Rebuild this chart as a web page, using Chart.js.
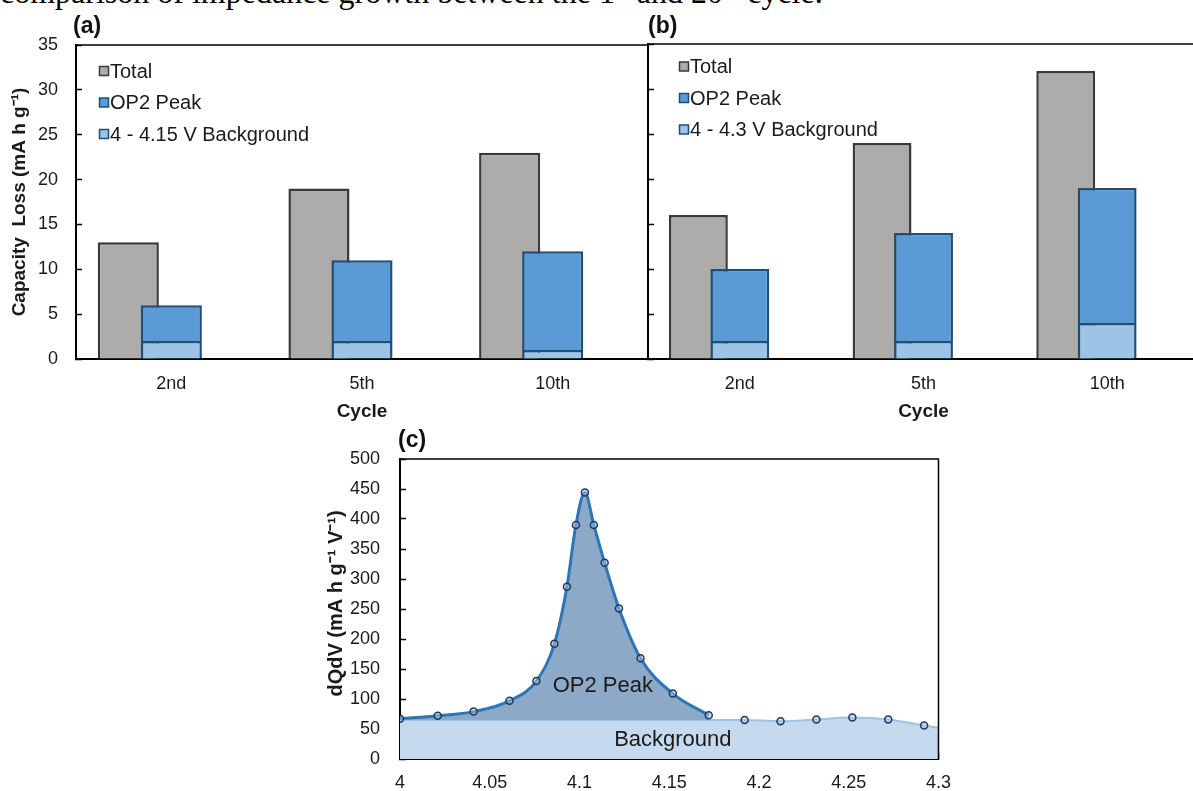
<!DOCTYPE html>
<html>
<head>
<meta charset="utf-8">
<script src="https://cdn.jsdelivr.net/npm/chart.js@4.4.1/dist/chart.umd.min.js"></script>
<style>
  html, body { margin: 0; padding: 0; background: #fff; }
  body { width: 1193px; height: 791px; position: relative; overflow: hidden; }
  canvas { position: absolute; }
  #caption { position: absolute; left: 0; top: -24px; white-space: nowrap; color: #000;
             font: 32px/32px "Liberation Serif", "Times New Roman", serif; }
  #caption sup { font-size: 0.65em; line-height: 0; vertical-align: 0.55em; }
  .panel { position: absolute; color: #111; font: bold 23px/22px "Liberation Sans", Arial, sans-serif; }
</style>
</head>
<body>
<div id="caption">comparison of impedance growth between the 1<sup>st</sup> and 20<sup>th</sup> cycle.</div>
<canvas id="chartA" width="660" height="425" style="left:0;top:0"></canvas>
<canvas id="chartB" width="570" height="425" style="left:640px;top:0"></canvas>
<canvas id="chartC" width="670" height="377" style="left:300px;top:420px"></canvas>
<div class="panel" style="left:73px;top:14px">(a)</div>
<div class="panel" style="left:648px;top:14px">(b)</div>
<div class="panel" style="left:398px;top:428px">(c)</div>
<script>
// bar panels: capacity loss per cycle
const cycles = ['2nd', '5th', '10th'];
const capacityTicks = [0, 5, 10, 15, 20, 25, 30, 35];

// (a) 4 - 4.15 V window
const totalA = [13, 19, 23];
const op2PeakA = [4, 9, 11];
const backgroundA = [2, 2, 1];

// (b) 4 - 4.3 V window
const totalB = [16, 24, 32];
const op2PeakB = [8, 12, 15];
const backgroundB = [2, 2, 4];

// (c) dQ/dV curve
const voltage = [4.000, 4.021, 4.041, 4.061, 4.076, 4.086, 4.093, 4.098, 4.103, 4.108, 4.114,
                 4.122, 4.134, 4.152, 4.172, 4.192, 4.212, 4.232, 4.252, 4.272, 4.292, 4.312];
const dqdv = [67, 72, 79, 97, 130, 192, 287, 390, 444, 390, 327,
              251, 168, 109, 73, 65, 63, 66, 69, 66, 56, 46];
const peakPoints = 15;        // first points belong to the OP2 peak
const backgroundLevel = 65;
const voltageTicks = [4, 4.05, 4.1, 4.15, 4.2, 4.25, 4.3];
const voltageLabels = ['4', '4.05', '4.1', '4.15', '4.2', '4.25', '4.3'];
const dqdvTicks = [0, 50, 100, 150, 200, 250, 300, 350, 400, 450, 500];
const regionNames = ['OP2 Peak', 'Background'];
const regionX = [4.113, 4.152];
const regionY = [121, 31];

Chart.defaults.font.family = '"Liberation Sans", Arial, sans-serif';
Chart.defaults.font.size = 18;
Chart.defaults.color = '#1a1a1a';

// top and right edge of the plot area
const framePlugin = {
    id: 'frame',
    afterDraw(chart) {
        const { ctx, chartArea: a } = chart;
        ctx.save();
        ctx.strokeStyle = '#000';
        ctx.lineWidth = 1.5;
        ctx.beginPath();
        ctx.moveTo(a.left, a.top);
        ctx.lineTo(a.right, a.top);
        ctx.lineTo(a.right, a.bottom);
        ctx.stroke();
        ctx.restore();
    }
};

// legend drawn inside the plot, like excel does
const boxLegend = {
    id: 'boxLegend',
    afterDraw(chart, args, opts) {
        if (!opts.items) return;
        const { ctx, chartArea: a } = chart;
        ctx.save();
        ctx.font = '20px "Liberation Sans", Arial, sans-serif';
        ctx.textBaseline = 'middle';
        opts.items.forEach((di, i) => {
            const ds = chart.data.datasets[di];
            const cx = a.left + opts.x;
            const cy = a.top + opts.y + i * opts.gap;
            ctx.fillStyle = ds.backgroundColor;
            ctx.fillRect(cx - 4.5, cy - 4.5, 9, 9);
            ctx.strokeStyle = ds.borderColor;
            ctx.lineWidth = 1.5;
            ctx.strokeRect(cx - 4.5, cy - 4.5, 9, 9);
            ctx.fillStyle = '#1a1a1a';
            ctx.fillText(ds.label, cx + 6, cy + 1);
        });
        ctx.restore();
    }
};

// the Total bar (dataset 0) goes behind the stacked OP2 bars
const totalBehind = {
    id: 'totalBehind',
    beforeDatasetsDraw(chart) {
        chart.getDatasetMeta(0).data.forEach(el => el.draw(chart.ctx));
    },
    beforeDatasetDraw(chart, args) {
        if (args.index === 0) return false;
    }
};

const barOpts = { categoryPercentage: 0.677, barPercentage: 1.42 };

const barChart = (id, cfg) => new Chart(document.getElementById(id), {
    type: 'bar',
    data: {
        labels: cycles,
        datasets: [
            {
                label: 'Total', data: cfg.total, stack: 'total',
                backgroundColor: '#aeabab', borderColor: '#3b3838', borderWidth: 2.5, ...barOpts
            },
            {
                label: cfg.bgLabel, data: cfg.background, stack: 'op2',
                backgroundColor: '#9dc3e6', borderColor: '#1f4e79', borderWidth: 2.5, ...barOpts
            },
            {
                label: 'OP2 Peak', data: cfg.peak, stack: 'op2',
                backgroundColor: '#5b9bd5', borderColor: '#1f4e79', borderWidth: 2.5, ...barOpts
            },
            {
                // empty slot on the right so the OP2 bar sits on the category centre
                label: '', data: cycles.map(() => null), stack: 'pad', ...barOpts
            }
        ]
    },
    options: {
        responsive: false,
        animation: false,
        devicePixelRatio: 1,
        layout: { padding: cfg.padding },
        plugins: {
            legend: { display: false },
            tooltip: { enabled: false },
            boxLegend: cfg.legend
        },
        scales: {
            x: {
                offset: true,
                grid: { display: true, drawOnChartArea: false, drawTicks: false },
                border: { color: '#000', width: 2 },
                ticks: { padding: 14, color: '#1a1a1a' },
                title: { display: true, text: 'Cycle', color: '#1a1a1a',
                         font: { size: 19, weight: 'bold' }, padding: { top: 0, bottom: 2 } },
                afterFit: s => { s.height = 66; }
            },
            y: {
                stacked: true,
                min: 0,
                max: 35,
                afterBuildTicks: s => { s.ticks = capacityTicks.map(v => ({ value: v })); },
                afterFit: s => { s.width = cfg.yWidth; },
                ticks: { display: cfg.yLabels, padding: 24, color: '#1a1a1a' },
                grid: { drawOnChartArea: false, tickLength: -6, tickColor: '#000', tickWidth: 1.5 },
                border: { color: '#000', width: 2 },
                title: { display: cfg.yLabels, text: 'Capacity  Loss (mA h g\u207B\u00B9)', color: '#1a1a1a',
                         font: { size: 19, weight: 'bold' }, padding: { top: 8 } }
            }
        }
    },
    plugins: [totalBehind, framePlugin, boxLegend]
});

barChart('chartA', {
    total: totalA, peak: op2PeakA, background: backgroundA,
    bgLabel: '4 - 4.15 V Background',
    padding: { left: 0, top: 45, right: 12, bottom: 0 },
    yWidth: 76, yLabels: true,
    legend: { items: [0, 2, 1], x: 28, y: 26, gap: 31.5 }
});

barChart('chartB', {
    total: totalB, peak: op2PeakB, background: backgroundB,
    bgLabel: '4 - 4.3 V Background',
    padding: { left: 0, top: 44, right: 11, bottom: 0 },
    yWidth: 8, yLabels: false,
    legend: { items: [0, 2, 1], x: 36, y: 22.5, gap: 31.5 }
});

// (c) region names written on the plot
const regionLabels = {
    id: 'regionLabels',
    afterDatasetsDraw(chart) {
        const { ctx, scales: { x, y } } = chart;
        ctx.save();
        ctx.font = '22px "Liberation Sans", Arial, sans-serif';
        ctx.fillStyle = '#1a1a1a';
        ctx.textAlign = 'center';
        ctx.textBaseline = 'middle';
        regionNames.forEach((t, i) => {
            ctx.fillText(t, x.getPixelForValue(regionX[i]), y.getPixelForValue(regionY[i]));
        });
        ctx.restore();
    }
};

const allPoints = voltage.map((v, i) => ({ x: v, y: dqdv[i] }));
const peakData = allPoints.slice(0, peakPoints);
const backgroundData = [
    { x: voltage[0], y: backgroundLevel },
    { x: voltage[peakPoints - 1], y: backgroundLevel },
    ...allPoints.slice(peakPoints)
];

new Chart(document.getElementById('chartC'), {
    type: 'line',
    data: {
        datasets: [
            {
                label: 'points', data: allPoints, showLine: false,
                pointRadius: 3.5, pointBorderWidth: 1.5,
                pointBorderColor: '#1f3864', pointBackgroundColor: 'rgba(170,195,222,0.5)'
            },
            {
                label: 'OP2 Peak', data: peakData,
                borderColor: '#2e75b6', borderWidth: 3, pointRadius: 0,
                cubicInterpolationMode: 'monotone',
                fill: { value: backgroundLevel }, backgroundColor: '#8da9c8'
            },
            {
                label: 'Background', data: backgroundData,
                borderColor: '#9dc3e6', borderWidth: 2, pointRadius: 0,
                cubicInterpolationMode: 'monotone',
                fill: 'origin', backgroundColor: '#c5daef'
            }
        ]
    },
    options: {
        responsive: false,
        animation: false,
        devicePixelRatio: 1,
        layout: { padding: { left: 0, top: 39, right: 24, bottom: 0 } },
        plugins: { legend: { display: false }, tooltip: { enabled: false } },
        scales: {
            x: {
                type: 'linear',
                min: 4,
                max: 4.3,
                afterBuildTicks: s => { s.ticks = voltageTicks.map(v => ({ value: v })); },
                afterFit: s => { s.height = 38; },
                ticks: { padding: 19, color: '#1a1a1a', callback: (v, i) => voltageLabels[i] },
                grid: { drawOnChartArea: false, tickLength: -6, tickColor: '#000', tickWidth: 1.5 },
                border: { color: '#000', width: 2 },
            },
            y: {
                min: 0,
                max: 500,
                afterBuildTicks: s => { s.ticks = dqdvTicks.map(v => ({ value: v })); },
                afterFit: s => { s.width = 100; },
                ticks: { padding: 26, color: '#1a1a1a' },
                grid: { drawOnChartArea: false, tickLength: -6, tickColor: '#000', tickWidth: 1.5 },
                border: { color: '#000', width: 2 },
                // leading spaces push the title up a little, as in the original
                title: { display: true, text: '  dQdV (mA h g\u207B\u00B9 V\u207B\u00B9)', color: '#1a1a1a',
                         font: { size: 20, weight: 'bold' }, padding: { top: 24 } }
            }
        }
    },
    plugins: [framePlugin, regionLabels]
});
</script>
</body>
</html>
